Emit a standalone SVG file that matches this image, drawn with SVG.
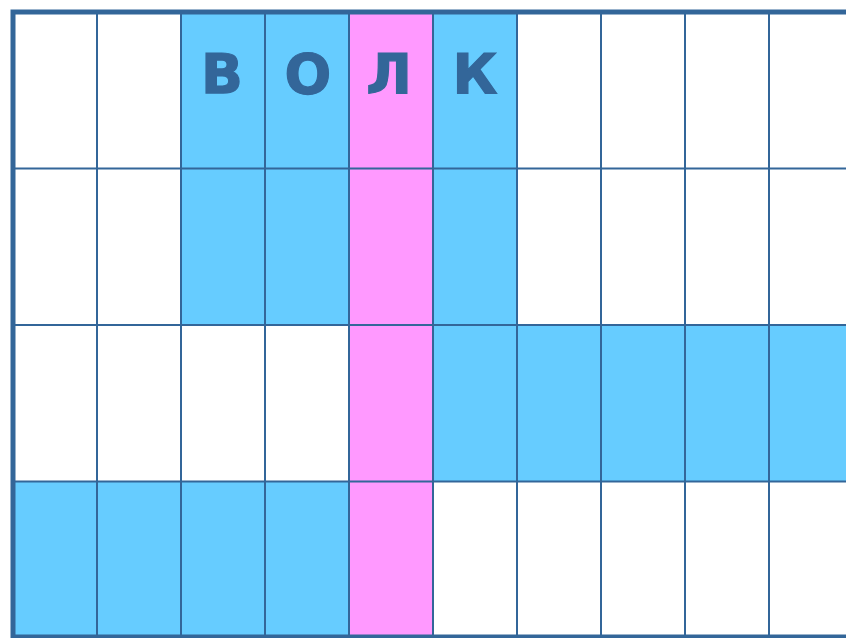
<svg xmlns="http://www.w3.org/2000/svg" width="846" height="638" viewBox="0 0 846 638">
<style>
.w{fill:#ffffff}
.b{fill:#66CCFF}
.p{fill:#FF99FF}
.g{stroke:#336699;stroke-width:2;fill:none}
.t{font-family:"DejaVu Sans",Verdana,sans-serif;font-weight:bold;font-size:55px;fill:#336699;text-anchor:middle;stroke:#336699;stroke-width:1.2}
</style>
<rect x="0" y="0" width="846" height="638" fill="#ffffff"/>
<g id="cells">
<rect class="b" x="181" y="12" width="168" height="313"/>
<rect class="b" x="433" y="12" width="84" height="313"/>
<rect class="p" x="349" y="12" width="84" height="625"/>
<rect class="b" x="433" y="325" width="420" height="156.5"/>
<rect class="b" x="13" y="481.5" width="336" height="156"/>
</g>
<g id="grid" class="g">
<path d="M97 12V637M181 12V637M265 12V637M349 12V637M433 12V637M517 12V637M601 12V637M685 12V637M769 12V637"/>
<path d="M13 168.5H853M13 325H853M13 481.5H853"/>
</g>
<rect id="border" x="13" y="12" width="900" height="625" fill="none" stroke="#336699" stroke-width="5"/>
<g id="letters">
<text class="t" x="222" y="93">В</text>
<text class="t" x="308" y="93">О</text>
<text class="t" x="389" y="93">Л</text>
<text class="t" x="475" y="93">К</text>
</g>
</svg>
